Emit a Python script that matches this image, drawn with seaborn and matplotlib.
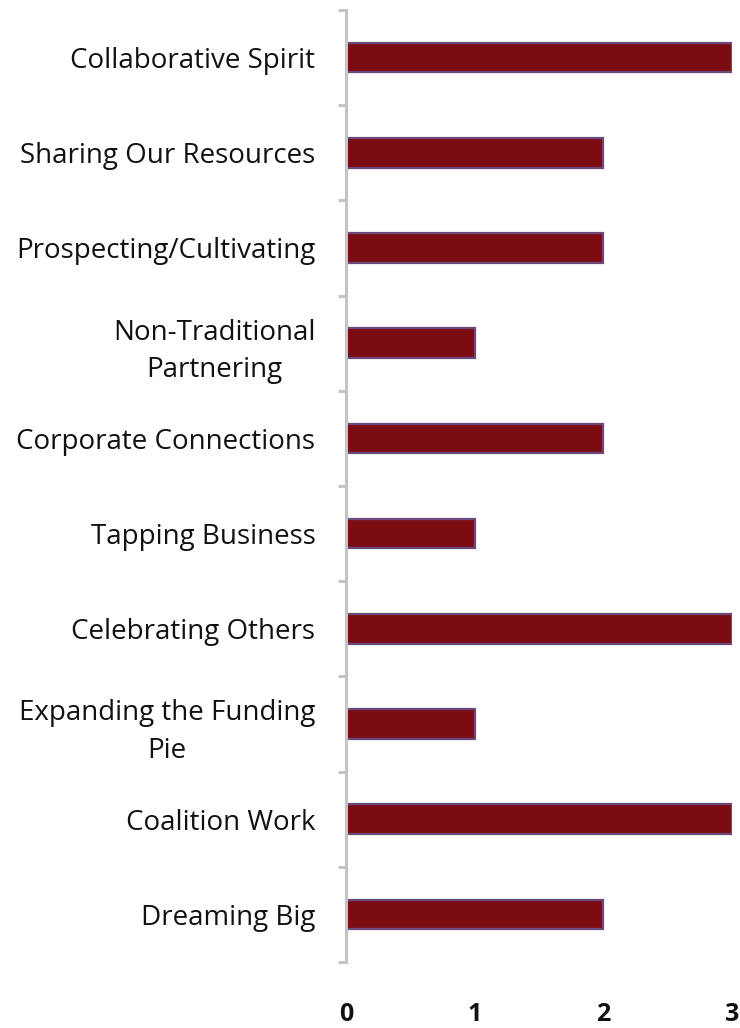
import matplotlib
matplotlib.use("Agg")
import matplotlib.pyplot as plt
import seaborn as sns
import pandas as pd

categories = ["Collaborative Spirit", "Sharing Our Resources", "Prospecting/Cultivating",
              "Non-Traditional\nPartnering", "Corporate Connections", "Tapping Business",
              "Celebrating Others", "Expanding the Funding\nPie", "Coalition Work", "Dreaming Big"]
values = [3, 2, 2, 1, 2, 1, 3, 1, 3, 2]
x_ticks = [0, 1, 2, 3]

sns.set_style("white")
plt.rcParams['font.family'] = ['Open Sans', 'DejaVu Sans']

df = pd.DataFrame({"cat": categories, "val": values})
fig = plt.figure(figsize=(7.4, 10.28), dpi=100)
ax = fig.add_axes([0.4676, 0.0642, 0.5216, 0.9261])
sns.barplot(data=df, y="cat", x="val", orient="h", color="#7f0c12", width=0.31,
            edgecolor="#6a4a7c", linewidth=1.6, saturation=1, ax=ax)
for p in ax.patches:
    p.set_facecolor("#7c0c14")

ax.set_xlim(0, 3)
ax.set_ylim(len(categories) - 0.5, -0.5)
ax.set_xlabel("")
ax.set_ylabel("")
for s in ["top", "right", "bottom"]:
    ax.spines[s].set_visible(False)
ax.spines["left"].set_color("#c4c4c4")
ax.spines["left"].set_linewidth(2.2)

ax.set_xticks(x_ticks)
ax.set_xticklabels([str(t) for t in x_ticks], fontsize=18, fontweight="bold", color="#111111")
ax.tick_params(axis="x", length=0, pad=29)

ax.set_yticks(range(len(categories)))
ax.set_yticklabels(categories, fontsize=20, multialignment="center", linespacing=1.45,
                   color="#111111")
ax.tick_params(axis="y", which="major", length=0, pad=22)
ax.set_yticks([i - 0.5 for i in range(len(categories) + 1)], minor=True)
ax.tick_params(axis="y", which="minor", length=6, width=2.2, color="#c4c4c4", left=True)

fig.savefig("out.png", dpi=100)
